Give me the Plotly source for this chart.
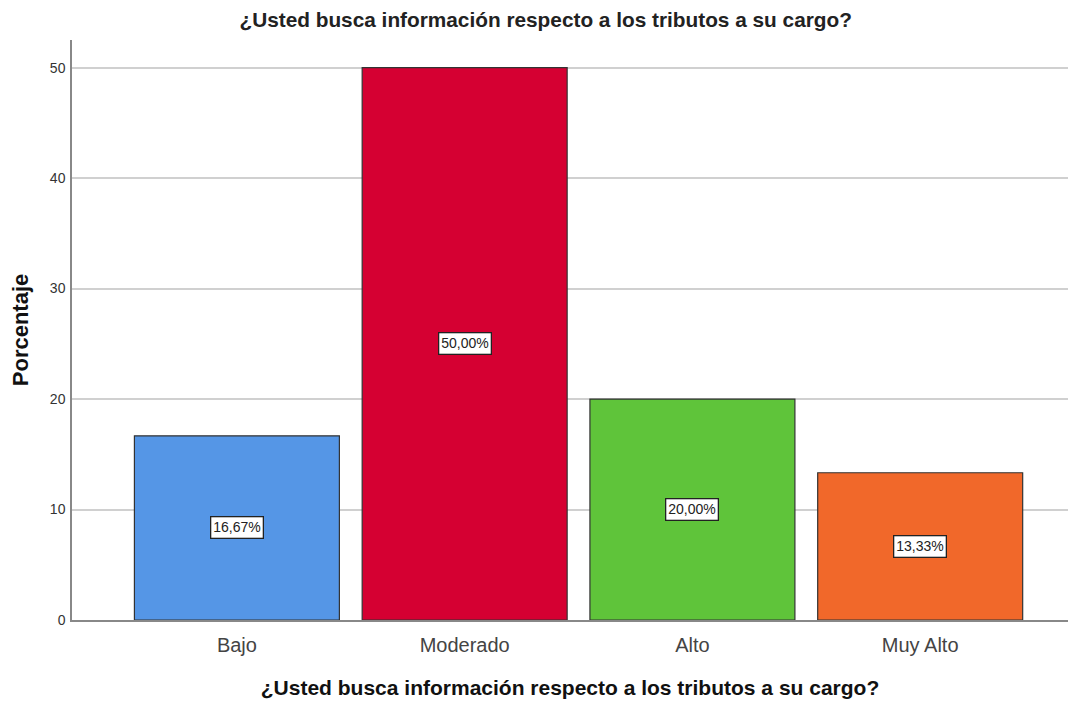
import plotly.graph_objects as go

categories = ["Bajo", "Moderado", "Alto", "Muy Alto"]
values = [16.67, 50.00, 20.00, 13.33]
labels = ["16,67%", "50,00%", "20,00%", "13,33%"]
colors = ["#5596E6", "#D50032", "#5FC43A", "#F1682A"]
y_ticks = [0, 10, 20, 30, 40, 50]
title = "¿Usted busca información respecto a los tributos a su cargo?"

fig = go.Figure()
fig.add_trace(go.Bar(
    x=categories, y=values,
    marker=dict(color=colors, line=dict(color="#333333", width=1.2)),
    width=0.9, hoverinfo="skip", showlegend=False,
))

for c, v, t in zip(categories, values, labels):
    fig.add_annotation(
        x=c, y=v / 2, text=t, showarrow=False,
        font=dict(family="Liberation Sans Narrow, Arial Narrow, Liberation Sans, Arial", size=14, color="#222222"),
        bgcolor="white", bordercolor="#222222", borderwidth=1.3, borderpad=2,
    )

fig.update_layout(
    width=1069, height=694,
    margin=dict(l=64, r=9, t=32, b=82),
    paper_bgcolor="white", plot_bgcolor="white",
    title=dict(text="<b>" + title + "</b>", x=0.503, xanchor="center", y=1 - 12 / 694, yanchor="middle",
               font=dict(family="Liberation Sans, Arial", size=20.8, color="#222222")),
    font=dict(family="Liberation Sans, Arial", color="#333333"),
    bargap=0.1,
)
fig.update_xaxes(
    type="category", range=[-0.724, 3.649], automargin=False,
    showline=True, linecolor="#888888", linewidth=1.5,
    ticks="", tickfont=dict(size=20, color="#444444"), ticklabelstandoff=6,
    title=dict(text="<b>" + title + "</b>", font=dict(size=21, color="#111111"), standoff=26),
    showgrid=False,
)
fig.update_yaxes(
    range=[0, 52.5], tickvals=y_ticks, automargin=False,
    showline=True, linecolor="#888888", linewidth=1.5,
    showgrid=True, gridcolor="#D0D0D0", gridwidth=1.5,
    ticks="", tickfont=dict(size=14, color="#333333"), ticklabelstandoff=2,
    title=dict(text="<b>Porcentaje</b>", font=dict(size=22, color="#111111"), standoff=18),
    zeroline=False,
)

fig.write_html("out.html")
